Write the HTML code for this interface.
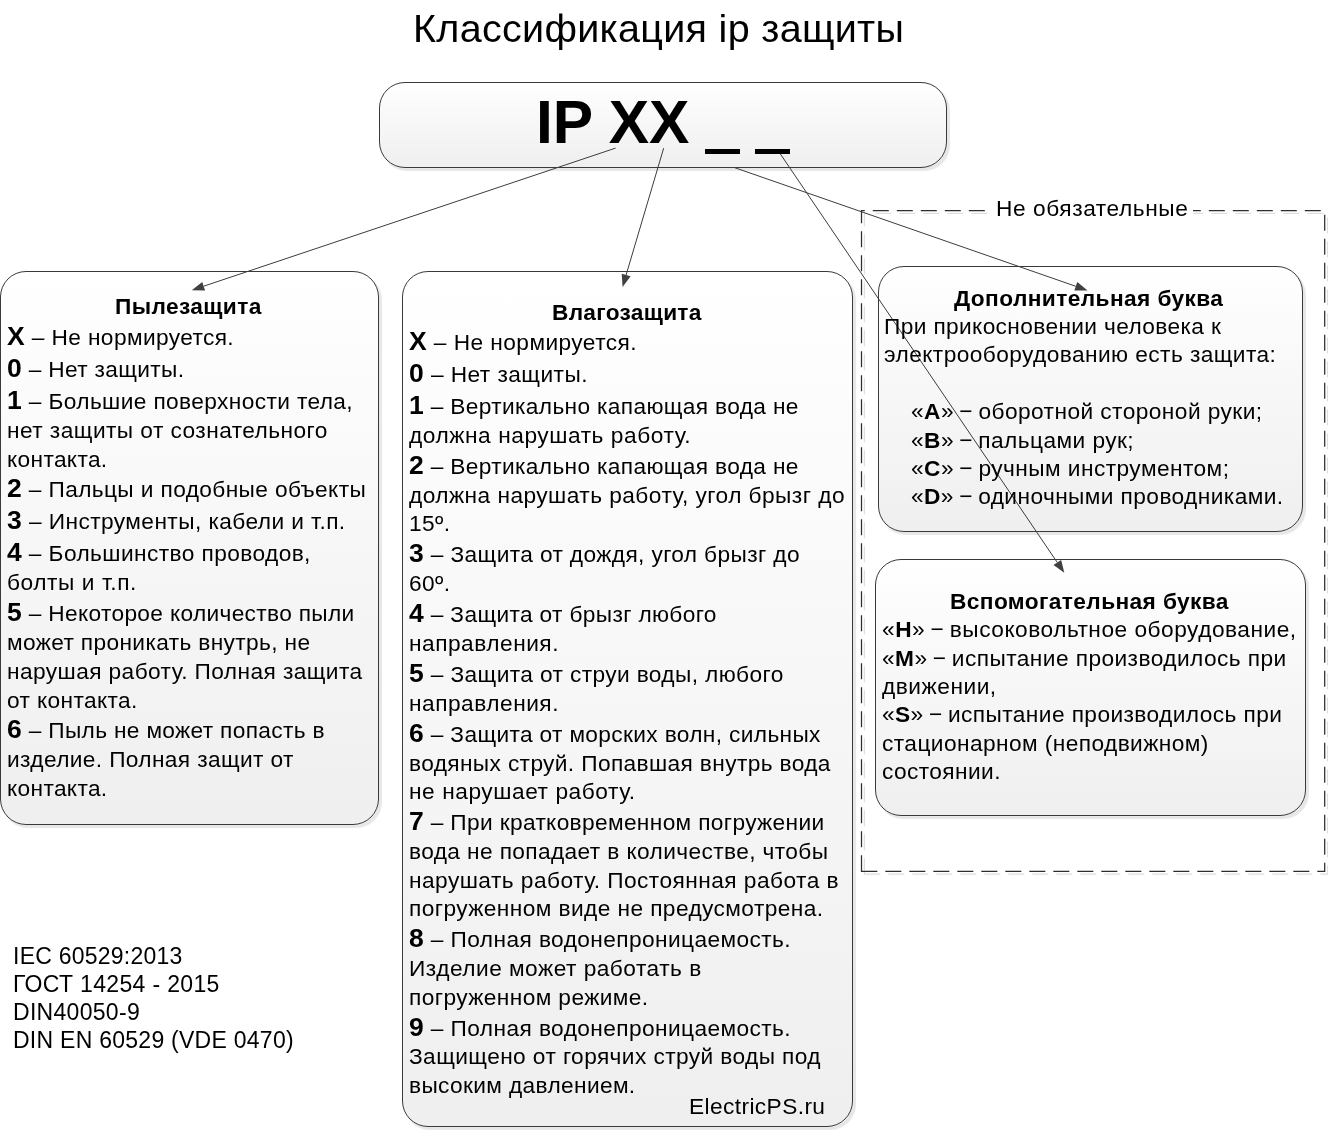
<!DOCTYPE html><html><head><meta charset="utf-8"><title>IP</title><style>

html,body{margin:0;padding:0;background:#fff;}
body{width:1328px;height:1130px;position:relative;overflow:hidden;font-family:"Liberation Sans", sans-serif;color:#000;}
.box{position:absolute;box-sizing:border-box;border:1px solid #3a3a3a;border-radius:26px;
 background:linear-gradient(#ffffff 0%,#f9f9f9 35%,#efefef 100%);box-shadow:2.5px 3px 0.8px rgba(0,0,0,0.095);}
.l{position:absolute;transform-origin:0 0;will-change:transform;white-space:nowrap;font-size:22.7px;height:30px;line-height:30px;}
.l b{line-height:0;}
.mn{margin:0 -1.4px;}
.l b.d{font-size:26.5px;}
.l.h{font-weight:bold;}
.l.title{font-size:39.5px;height:50px;line-height:50px;}
.l.ip{font-size:60.5px;font-weight:bold;height:70px;line-height:70px;}
.l.f{font-size:23.0px;}
.l.lbl{background:#fff;}
svg{position:absolute;left:0;top:0;}
.us{position:absolute;background:#000;}

</style></head><body>
<div class="box" style="left:379.0px;top:82.0px;width:568.0px;height:86.0px"></div>
<div class="box" style="left:0.0px;top:271.0px;width:379.0px;height:554.0px"></div>
<div class="box" style="left:402.0px;top:271.0px;width:451.0px;height:856.0px"></div>
<div class="box" style="left:878.0px;top:266.0px;width:425.0px;height:266.0px"></div>
<div class="box" style="left:875.0px;top:559.0px;width:431.0px;height:257.0px"></div>
<svg width="1328" height="1130" viewBox="0 0 1328 1130"><path d="M864.4 874.2 V213.4 H1327.6 V874.2 Z" fill="none" stroke="#dedede" stroke-width="1.2" stroke-dasharray="16 8"/><path d="M861.5 871.3 V210.6 H1324.7 V871.3 Z" fill="none" stroke="#2e2e2e" stroke-width="1.25" stroke-dasharray="16 8"/><rect x="987" y="198" width="206" height="24" fill="#fff"/><line x1="615.6" y1="148.1" x2="203.7" y2="286.2" stroke="#3c3c3c" stroke-width="1"/><polygon points="191.8,290.2 202.2,281.9 205.1,290.6" fill="#404040"/><line x1="663.7" y1="148.1" x2="626.1" y2="275.0" stroke="#3c3c3c" stroke-width="1"/><polygon points="622.6,287.0 621.7,273.7 630.6,276.3" fill="#404040"/><line x1="734.5" y1="167.6" x2="1075.8" y2="286.3" stroke="#3c3c3c" stroke-width="1"/><polygon points="1087.6,290.4 1074.3,290.6 1077.3,281.9" fill="#404040"/><line x1="777.0" y1="149.0" x2="1057.3" y2="562.5" stroke="#3c3c3c" stroke-width="1"/><polygon points="1064.3,572.8 1053.5,565.0 1061.1,559.9" fill="#404040"/></svg>
<div class="us" style="left:705.3px;top:149px;width:34.6px;height:5.3px"></div><div class="us" style="left:755.4px;top:149px;width:34.7px;height:5.3px"></div>
<div class="l h" style="left:115.18px;top:291.00px;letter-spacing:0.383px;">Пылезащита</div>
<div class="l " style="left:7.30px;top:322.00px;letter-spacing:0.391px;"><b class="d">X</b> – Не нормируется.</div>
<div class="l " style="left:7.30px;top:354.00px;letter-spacing:0.335px;"><b class="d">0</b> – Нет защиты.</div>
<div class="l " style="left:7.30px;top:386.00px;letter-spacing:0.384px;"><b class="d">1</b> – Большие поверхности тела,</div>
<div class="l " style="left:7.30px;top:415.00px;letter-spacing:0.445px;">нет защиты от сознательного</div>
<div class="l " style="left:7.30px;top:444.00px;letter-spacing:0.356px;">контакта.</div>
<div class="l " style="left:7.30px;top:474.00px;letter-spacing:0.381px;"><b class="d">2</b> – Пальцы и подобные объекты</div>
<div class="l " style="left:7.30px;top:506.00px;letter-spacing:0.432px;"><b class="d">3</b> – Инструменты, кабели и т.п.</div>
<div class="l " style="left:7.30px;top:538.00px;letter-spacing:0.412px;"><b class="d">4</b> – Большинство проводов,</div>
<div class="l " style="left:7.30px;top:567.00px;letter-spacing:0.569px;">болты и т.п.</div>
<div class="l " style="left:7.30px;top:598.00px;letter-spacing:0.338px;"><b class="d">5</b> – Некоторое количество пыли</div>
<div class="l " style="left:7.30px;top:627.00px;letter-spacing:0.361px;">может проникать внутрь, не</div>
<div class="l " style="left:7.30px;top:656.00px;letter-spacing:0.416px;">нарушая работу. Полная защита</div>
<div class="l " style="left:7.30px;top:685.00px;letter-spacing:0.376px;">от контакта.</div>
<div class="l " style="left:7.30px;top:715.00px;letter-spacing:0.334px;"><b class="d">6</b> – Пыль не может попасть в</div>
<div class="l " style="left:7.30px;top:744.00px;letter-spacing:0.374px;">изделие. Полная защит от</div>
<div class="l " style="left:7.30px;top:773.00px;letter-spacing:0.356px;">контакта.</div>
<div class="l h" style="left:551.98px;top:297.00px;letter-spacing:0.283px;">Влагозащита</div>
<div class="l " style="left:408.80px;top:327.00px;letter-spacing:0.441px;"><b class="d">X</b> – Не нормируется.</div>
<div class="l " style="left:408.80px;top:359.00px;letter-spacing:0.442px;"><b class="d">0</b> – Нет защиты.</div>
<div class="l " style="left:408.80px;top:391.00px;letter-spacing:0.351px;"><b class="d">1</b> – Вертикально капающая вода не</div>
<div class="l " style="left:408.80px;top:420.00px;letter-spacing:0.559px;">должна нарушать работу.</div>
<div class="l " style="left:408.80px;top:451.00px;letter-spacing:0.351px;"><b class="d">2</b> – Вертикально капающая вода не</div>
<div class="l " style="left:408.80px;top:480.00px;letter-spacing:0.456px;">должна нарушать работу, угол брызг до</div>
<div class="l " style="left:408.80px;top:508.00px;letter-spacing:0.415px;">15º.</div>
<div class="l " style="left:408.80px;top:539.00px;letter-spacing:0.382px;"><b class="d">3</b> – Защита от дождя, угол брызг до</div>
<div class="l " style="left:408.80px;top:568.00px;letter-spacing:0.415px;">60º.</div>
<div class="l " style="left:408.80px;top:599.00px;letter-spacing:0.351px;"><b class="d">4</b> – Защита от брызг любого</div>
<div class="l " style="left:408.80px;top:628.00px;letter-spacing:0.510px;">направления.</div>
<div class="l " style="left:408.80px;top:659.00px;letter-spacing:0.387px;"><b class="d">5</b> – Защита от струи воды, любого</div>
<div class="l " style="left:408.80px;top:688.00px;letter-spacing:0.510px;">направления.</div>
<div class="l " style="left:408.80px;top:719.00px;letter-spacing:0.352px;"><b class="d">6</b> – Защита от морских волн, сильных</div>
<div class="l " style="left:408.80px;top:748.00px;letter-spacing:0.372px;">водяных струй. Попавшая внутрь вода</div>
<div class="l " style="left:408.80px;top:776.00px;letter-spacing:0.562px;">не нарушает работу.</div>
<div class="l " style="left:408.80px;top:807.00px;letter-spacing:0.350px;"><b class="d">7</b> – При кратковременном погружении</div>
<div class="l " style="left:408.80px;top:836.00px;letter-spacing:0.388px;">вода не попадает в количестве, чтобы</div>
<div class="l " style="left:408.80px;top:865.00px;letter-spacing:0.462px;">нарушать работу. Постоянная работа в</div>
<div class="l " style="left:408.80px;top:893.00px;letter-spacing:0.416px;">погруженном виде не предусмотрена.</div>
<div class="l " style="left:408.80px;top:924.00px;letter-spacing:0.411px;"><b class="d">8</b> – Полная водонепроницаемость.</div>
<div class="l " style="left:408.80px;top:953.00px;letter-spacing:0.486px;">Изделие может работать в</div>
<div class="l " style="left:408.80px;top:982.00px;letter-spacing:0.405px;">погруженном режиме.</div>
<div class="l " style="left:408.80px;top:1013.00px;letter-spacing:0.411px;"><b class="d">9</b> – Полная водонепроницаемость.</div>
<div class="l " style="left:408.80px;top:1041.00px;letter-spacing:0.413px;">Защищено от горячих струй воды под</div>
<div class="l " style="left:408.80px;top:1070.00px;letter-spacing:0.360px;">высоким давлением.</div>
<div class="l " style="left:688.84px;top:1091.00px;letter-spacing:0.404px;">ElectricPS.ru</div>
<div class="l h" style="left:954.20px;top:283.00px;letter-spacing:0.405px;">Дополнительная буква</div>
<div class="l " style="left:883.80px;top:311.00px;letter-spacing:0.372px;">При прикосновении человека к</div>
<div class="l " style="left:883.80px;top:339.00px;letter-spacing:0.428px;">электрооборудованию есть защита:</div>
<div class="l " style="left:911.30px;top:396.00px;letter-spacing:0.444px;">«<b>A</b>» <span class="mn">−</span> оборотной стороной руки;</div>
<div class="l " style="left:911.30px;top:425.00px;letter-spacing:0.436px;">«<b>B</b>» <span class="mn">−</span> пальцами рук;</div>
<div class="l " style="left:911.30px;top:453.00px;letter-spacing:0.447px;">«<b>C</b>» <span class="mn">−</span> ручным инструментом;</div>
<div class="l " style="left:911.30px;top:481.00px;letter-spacing:0.412px;">«<b>D</b>» <span class="mn">−</span> одиночными проводниками.</div>
<div class="l h" style="left:950.38px;top:586.00px;letter-spacing:0.395px;">Вспомогательная буква</div>
<div class="l " style="left:881.90px;top:614.00px;letter-spacing:0.509px;">«<b>H</b>» <span class="mn">−</span> высоковольтное оборудование,</div>
<div class="l " style="left:881.90px;top:643.00px;letter-spacing:0.434px;">«<b>M</b>» <span class="mn">−</span> испытание производилось при</div>
<div class="l " style="left:881.90px;top:671.00px;letter-spacing:0.525px;">движении,</div>
<div class="l " style="left:881.90px;top:699.00px;letter-spacing:0.417px;">«<b>S</b>» <span class="mn">−</span> испытание производилось при</div>
<div class="l " style="left:881.90px;top:728.00px;letter-spacing:0.426px;">стационарном (неподвижном)</div>
<div class="l " style="left:881.90px;top:756.00px;letter-spacing:0.410px;">состоянии.</div>
<div class="l lbl" style="left:996.34px;top:193.00px;letter-spacing:0.580px;">Не обязательные</div>
<div class="l f" style="left:13.00px;top:941.00px;letter-spacing:0.235px;">IEC 60529:2013</div>
<div class="l f" style="left:13.00px;top:969.00px;letter-spacing:0.341px;">ГОСТ 14254 - 2015</div>
<div class="l f" style="left:13.00px;top:997.00px;letter-spacing:0.295px;">DIN40050-9</div>
<div class="l f" style="left:13.00px;top:1025.00px;letter-spacing:0.262px;">DIN EN 60529 (VDE 0470)</div>
<div class="l title" style="left:413.36px;top:3.00px;letter-spacing:0.305px;">Классификация ip защиты</div>
<div class="l ip" style="left:535.95px;top:87.00px;letter-spacing:-0.054px;">IP XX</div>
</body></html>
